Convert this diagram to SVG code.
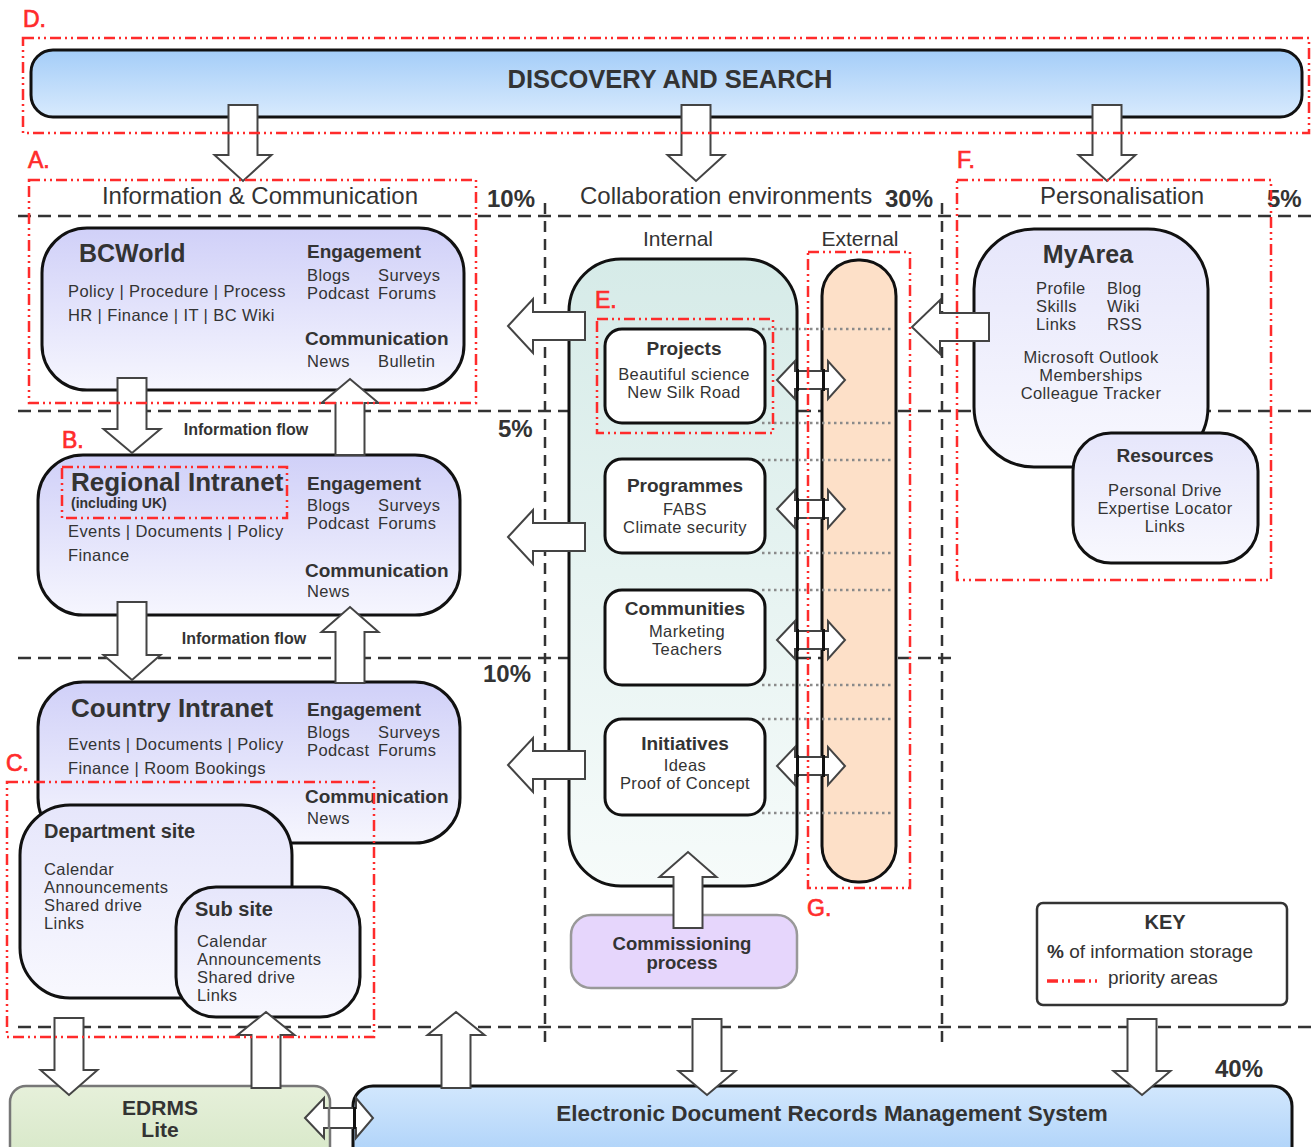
<svg xmlns="http://www.w3.org/2000/svg" width="1316" height="1147" viewBox="0 0 1316 1147">
<defs>
<linearGradient id="gBlueDown" x1="0" y1="0" x2="0" y2="1"><stop offset="0" stop-color="#a4cdf8"/><stop offset="1" stop-color="#d8eafd"/></linearGradient>
<linearGradient id="gBlueUp" x1="0" y1="0" x2="0" y2="1"><stop offset="0" stop-color="#d2e7fd"/><stop offset="1" stop-color="#a4cdf8"/></linearGradient>
<linearGradient id="gLav" x1="0" y1="0" x2="0" y2="1"><stop offset="0" stop-color="#d0d0f8"/><stop offset="1" stop-color="#f6f6fe"/></linearGradient>
<linearGradient id="gLavLight" x1="0" y1="0" x2="0" y2="1"><stop offset="0" stop-color="#e6e6fb"/><stop offset="1" stop-color="#f8f8fe"/></linearGradient>
<linearGradient id="gTeal" x1="0" y1="0" x2="0" y2="1"><stop offset="0" stop-color="#d6ebe8"/><stop offset="1" stop-color="#f6fbfa"/></linearGradient>
<linearGradient id="gGreen" x1="0" y1="0" x2="0" y2="1"><stop offset="0" stop-color="#e6f0da"/><stop offset="1" stop-color="#d4e6c4"/></linearGradient>
</defs>
<style>
text{font-family:"Liberation Sans",Arial,sans-serif;fill:#333}
.b{font-weight:bold}
.body{font-size:16.5px;letter-spacing:0.4px}
.hd{font-size:19px;font-weight:bold}
.sec{font-size:24px}
.pct{font-size:24px;font-weight:bold}
.lbl{font-size:23px;fill:#ff2b2b;stroke:#ff2b2b;stroke-width:0.7px}
.mid{text-anchor:middle}
.red{fill:none;stroke:#ff2b2b;stroke-width:2.5;stroke-dasharray:11 4 2 4 2 4}
.dash{fill:none;stroke:#333;stroke-width:2.5;stroke-dasharray:13 7}
.arr{fill:#fff;stroke:#444;stroke-width:2;stroke-linejoin:miter}
.box{stroke:#111;stroke-width:3}
.dot{stroke:#8a8a8a;stroke-width:2.5;stroke-dasharray:2.5 3.5}
.edge{stroke:#111;stroke-width:3}
</style>

<g id="grid">
<line class="dash" x1="18" y1="216" x2="1316" y2="216"/>
<line class="dash" x1="18" y1="411" x2="1316" y2="411"/>
<line class="dash" x1="18" y1="658" x2="958" y2="658"/>
<line class="dash" x1="18" y1="1027" x2="1316" y2="1027"/>
<line class="dash" x1="545" y1="203" x2="545" y2="1045" style="stroke-dasharray:11 7"/>
<line class="dash" x1="942" y1="203" x2="942" y2="1045" style="stroke-dasharray:11 7"/>
</g>

<g id="headings">
<text class="sec mid" x="260" y="204">Information &amp; Communication</text>
<text class="pct" x="487" y="207">10%</text>
<text class="sec" x="580" y="204">Collaboration environments</text>
<text class="pct" x="885" y="207">30%</text>
<text class="sec mid" x="1122" y="204">Personalisation</text>
<text class="pct" x="1267" y="207">5%</text>
<text class="pct" x="498" y="437">5%</text>
<text class="pct" x="483" y="682">10%</text>
<text class="pct" x="1215" y="1077">40%</text>
<text class="mid" x="678" y="246" style="font-size:21px">Internal</text>
<text class="mid" x="860" y="246" style="font-size:21px">External</text>
<text class="b mid" x="246" y="435" style="font-size:16px">Information flow</text>
<text class="b mid" x="244" y="644" style="font-size:16px">Information flow</text>
</g>

<g id="discovery">
<rect class="box" x="31" y="50" width="1271" height="67" rx="22" fill="url(#gBlueDown)"/>
<text class="b mid" x="670" y="88" style="font-size:25.5px">DISCOVERY AND SEARCH</text>
</g>

<g id="bcworld">
<rect class="box" x="42" y="228" width="422" height="162" rx="45" fill="url(#gLav)"/>
<text class="b" x="79" y="262" style="font-size:25px">BCWorld</text>
<text class="body" x="68" y="297">Policy | Procedure | Process</text>
<text class="body" x="68" y="321">HR | Finance | IT | BC Wiki</text>
<text class="hd" x="307" y="258">Engagement</text>
<text class="body" x="307" y="281">Blogs</text><text class="body" x="378" y="281">Surveys</text>
<text class="body" x="307" y="299">Podcast</text><text class="body" x="378" y="299">Forums</text>
<text class="hd" x="305" y="345">Communication</text>
<text class="body" x="307" y="367">News</text><text class="body" x="378" y="367">Bulletin</text>
</g>

<g id="regional">
<rect class="box" x="38" y="455" width="422" height="160" rx="45" fill="url(#gLav)"/>
<text class="b" x="71" y="491" style="font-size:26px">Regional Intranet</text>
<text class="b" x="71" y="508" style="font-size:14px">(including UK)</text>
<text class="body" x="68" y="537">Events | Documents | Policy</text>
<text class="body" x="68" y="561">Finance</text>
<text class="hd" x="307" y="490">Engagement</text>
<text class="body" x="307" y="511">Blogs</text><text class="body" x="378" y="511">Surveys</text>
<text class="body" x="307" y="529">Podcast</text><text class="body" x="378" y="529">Forums</text>
<text class="hd" x="305" y="577">Communication</text>
<text class="body" x="307" y="597">News</text>
</g>

<g id="country">
<rect class="box" x="38" y="682" width="422" height="161" rx="45" fill="url(#gLav)"/>
<text class="b" x="71" y="717" style="font-size:26px">Country Intranet</text>
<text class="body" x="68" y="750">Events | Documents | Policy</text>
<text class="body" x="68" y="774">Finance | Room Bookings</text>
<text class="hd" x="307" y="716">Engagement</text>
<text class="body" x="307" y="738">Blogs</text><text class="body" x="378" y="738">Surveys</text>
<text class="body" x="307" y="756">Podcast</text><text class="body" x="378" y="756">Forums</text>
<text class="hd" x="305" y="803">Communication</text>
<text class="body" x="307" y="824">News</text>
</g>

<g id="department">
<rect class="box" x="20" y="805" width="272" height="193" rx="50" fill="url(#gLavLight)"/>
<text class="b" x="44" y="838" style="font-size:20px">Department site</text>
<text class="body" x="44" y="875">Calendar</text>
<text class="body" x="44" y="893">Announcements</text>
<text class="body" x="44" y="911">Shared drive</text>
<text class="body" x="44" y="929">Links</text>
</g>

<g id="subsite">
<rect class="box" x="176" y="887" width="184" height="130" rx="40" fill="url(#gLavLight)"/>
<text class="b" x="195" y="916" style="font-size:20px">Sub site</text>
<text class="body" x="197" y="947">Calendar</text>
<text class="body" x="197" y="965">Announcements</text>
<text class="body" x="197" y="983">Shared drive</text>
<text class="body" x="197" y="1001">Links</text>
</g>

<g id="internal">
<rect class="box" x="569" y="259" width="228" height="627" rx="52" fill="url(#gTeal)"/>
</g>

<g id="external">
<rect class="box" x="822" y="260" width="74" height="622" rx="36" fill="#fde0c8"/>
</g>

<g id="projects">
<rect class="box" x="605" y="329" width="160" height="94" rx="17" fill="#fff"/>
<text class="hd mid" x="684" y="355">Projects</text>
<text class="body mid" x="684" y="380">Beautiful science</text>
<text class="body mid" x="684" y="398">New Silk Road</text>
</g>

<g id="programmes">
<rect class="box" x="605" y="459" width="160" height="94" rx="17" fill="#fff"/>
<text class="hd mid" x="685" y="492">Programmes</text>
<text class="body mid" x="685" y="515">FABS</text>
<text class="body mid" x="685" y="533">Climate security</text>
</g>

<g id="communities">
<rect class="box" x="605" y="590" width="160" height="95" rx="17" fill="#fff"/>
<text class="hd mid" x="685" y="615">Communities</text>
<text class="body mid" x="687" y="637">Marketing</text>
<text class="body mid" x="687" y="655">Teachers</text>
</g>

<g id="initiatives">
<rect class="box" x="605" y="719" width="160" height="96" rx="17" fill="#fff"/>
<text class="hd mid" x="685" y="750">Initiatives</text>
<text class="body mid" x="685" y="771">Ideas</text>
<text class="body mid" x="685" y="789">Proof of Concept</text>
</g>

<g id="commissioning">
<rect x="571" y="915" width="226" height="73" rx="20" fill="#e6d6fc" stroke="#999" stroke-width="2.5"/>
<text class="b mid" x="682" y="950" style="font-size:18.5px">Commissioning</text>
<text class="b mid" x="682" y="969" style="font-size:18.5px">process</text>
</g>

<g id="myarea">
<rect class="box" x="974" y="229" width="234" height="238" rx="60" fill="url(#gLavLight)"/>
<text class="b mid" x="1088" y="263" style="font-size:25px">MyArea</text>
<text class="body" x="1036" y="294">Profile</text><text class="body" x="1107" y="294">Blog</text>
<text class="body" x="1036" y="312">Skills</text><text class="body" x="1107" y="312">Wiki</text>
<text class="body" x="1036" y="330">Links</text><text class="body" x="1107" y="330">RSS</text>
<text class="body mid" x="1091" y="363">Microsoft Outlook</text>
<text class="body mid" x="1091" y="381">Memberships</text>
<text class="body mid" x="1091" y="399">Colleague Tracker</text>
</g>

<g id="resources">
<rect class="box" x="1073" y="433" width="185" height="130" rx="38" fill="url(#gLavLight)"/>
<text class="hd mid" x="1165" y="462">Resources</text>
<text class="body mid" x="1165" y="496">Personal Drive</text>
<text class="body mid" x="1165" y="514">Expertise Locator</text>
<text class="body mid" x="1165" y="532">Links</text>
</g>

<g id="key">
<rect x="1037" y="903" width="250" height="102" rx="6" fill="#fff" stroke="#333" stroke-width="2.5"/>
<text class="b mid" x="1165" y="929" style="font-size:20px">KEY</text>
<text x="1047" y="958" style="font-size:19px"><tspan class="b">%</tspan> of information storage</text>
<line class="red" x1="1047" y1="981" x2="1098" y2="981" style="stroke-width:3.5"/>
<text x="1108" y="984" style="font-size:19px">priority areas</text>
</g>

<g id="edrms-lite">
<rect x="10" y="1086" width="320" height="90" rx="16" fill="url(#gGreen)" stroke="#777" stroke-width="2.5"/>
<text class="b mid" x="160" y="1115" style="font-size:21px">EDRMS</text>
<text class="b mid" x="160" y="1137" style="font-size:21px">Lite</text>
</g>

<g id="edrms">
<rect class="box" x="353" y="1086" width="939" height="90" rx="20" fill="url(#gBlueUp)"/>
<text class="b mid" x="832" y="1121" style="font-size:22.5px">Electronic Document Records Management System</text>
</g>

<g id="connectors">
<polygon class="arr" points="228.5,105 257.5,105 257.5,155 271.5,155 243,181 214.5,155 228.5,155"/>
<polygon class="arr" points="681.5,105 710.5,105 710.5,155 724.5,155 696,181 667.5,155 681.5,155"/>
<polygon class="arr" points="1092.5,105 1121.5,105 1121.5,155 1135.5,155 1107,181 1078.5,155 1092.5,155"/>
<polygon class="arr" points="117.5,378 146.5,378 146.5,429 160.5,429 132,453 103.5,429 117.5,429"/>
<polygon class="arr" points="117.5,602 146.5,602 146.5,655 160.5,655 132,680 103.5,655 117.5,655"/>
<polygon class="arr" points="335.5,455 335.5,403 321.5,403 350,379 378.5,403 364.5,403 364.5,455"/>
<polygon class="arr" points="335.5,683 335.5,632 321.5,632 350,607 378.5,632 364.5,632 364.5,683"/>
<polygon class="arr" points="54.5,1018 83.5,1018 83.5,1070 97.5,1070 69,1095 40.5,1070 54.5,1070"/>
<polygon class="arr" points="251.5,1088 251.5,1035 237.5,1035 266,1012 294.5,1035 280.5,1035 280.5,1088"/>
<polygon class="arr" points="441.5,1088 441.5,1035 427.5,1035 456,1012 484.5,1035 470.5,1035 470.5,1088"/>
<polygon class="arr" points="692.5,1019 721.5,1019 721.5,1071 735.5,1071 707,1095 678.5,1071 692.5,1071"/>
<polygon class="arr" points="1127.5,1019 1156.5,1019 1156.5,1071 1170.5,1071 1142,1095 1113.5,1071 1127.5,1071"/>
<polygon class="arr" points="673.5,928 673.5,877 659.5,877 688,852 716.5,877 702.5,877 702.5,928"/>
<polygon class="arr" points="585,312 533,312 533,299 508,326 533,353 533,340 585,340"/>
<polygon class="arr" points="585,523 533,523 533,510 508,537 533,564 533,551 585,551"/>
<polygon class="arr" points="585,751 533,751 533,738 508,765 533,792 533,779 585,779"/>
<polygon class="arr" points="989,313 940,313 940,300 912,327 940,354 940,341 989,341"/>
<polygon class="arr" points="777,380 795,361 795,371 828,371 828,361 845,380 828,399 828,389 795,389 795,399"/>
<polygon class="arr" points="777,509 795,490 795,500 828,500 828,490 845,509 828,528 828,518 795,518 795,528"/>
<polygon class="arr" points="777,640 795,621 795,631 828,631 828,621 845,640 828,659 828,649 795,649 795,659"/>
<polygon class="arr" points="777,766 795,747 795,757 828,757 828,747 845,766 828,785 828,775 795,775 795,785"/>
<polygon class="arr" points="305,1118 324,1098 324,1108 356,1108 356,1098 373,1118 356,1138 356,1128 324,1128 324,1138"/>
<path class="edge" d="M797.5 369V391M797.5 498V520M797.5 629V651M797.5 755V777M823.5 369V391M823.5 498V520M823.5 629V651M823.5 755V777M354.5 1107V1129"/>
<path d="M329 1107V1129" stroke="#777" stroke-width="2.5"/>
</g>

<g id="links">
<line class="dot" x1="762" y1="329" x2="892" y2="329"/>
<line class="dot" x1="762" y1="423" x2="892" y2="423"/>
<line class="dot" x1="762" y1="460" x2="892" y2="460"/>
<line class="dot" x1="762" y1="553" x2="892" y2="553"/>
<line class="dot" x1="762" y1="590" x2="892" y2="590"/>
<line class="dot" x1="762" y1="685" x2="892" y2="685"/>
<line class="dot" x1="762" y1="719" x2="892" y2="719"/>
<line class="dot" x1="762" y1="813" x2="892" y2="813"/>
</g>

<g id="priority-areas">
<rect class="red" x="23" y="38" width="1286" height="95"/>
<rect class="red" x="29" y="180" width="447" height="223"/>
<rect class="red" x="62" y="467" width="225" height="51"/>
<rect class="red" x="7" y="782" width="367" height="255"/>
<rect class="red" x="597" y="319" width="176" height="114"/>
<rect class="red" x="957" y="180" width="314" height="400"/>
<rect class="red" x="808" y="252" width="102" height="636"/>
<text class="lbl" x="23" y="27">D.</text>
<text class="lbl" x="28" y="168">A.</text>
<text class="lbl" x="62" y="448">B.</text>
<text class="lbl" x="6" y="771">C.</text>
<text class="lbl" x="595" y="308">E.</text>
<text class="lbl" x="957" y="168">F.</text>
<text class="lbl" x="807" y="916">G.</text>
</g>
</svg>
